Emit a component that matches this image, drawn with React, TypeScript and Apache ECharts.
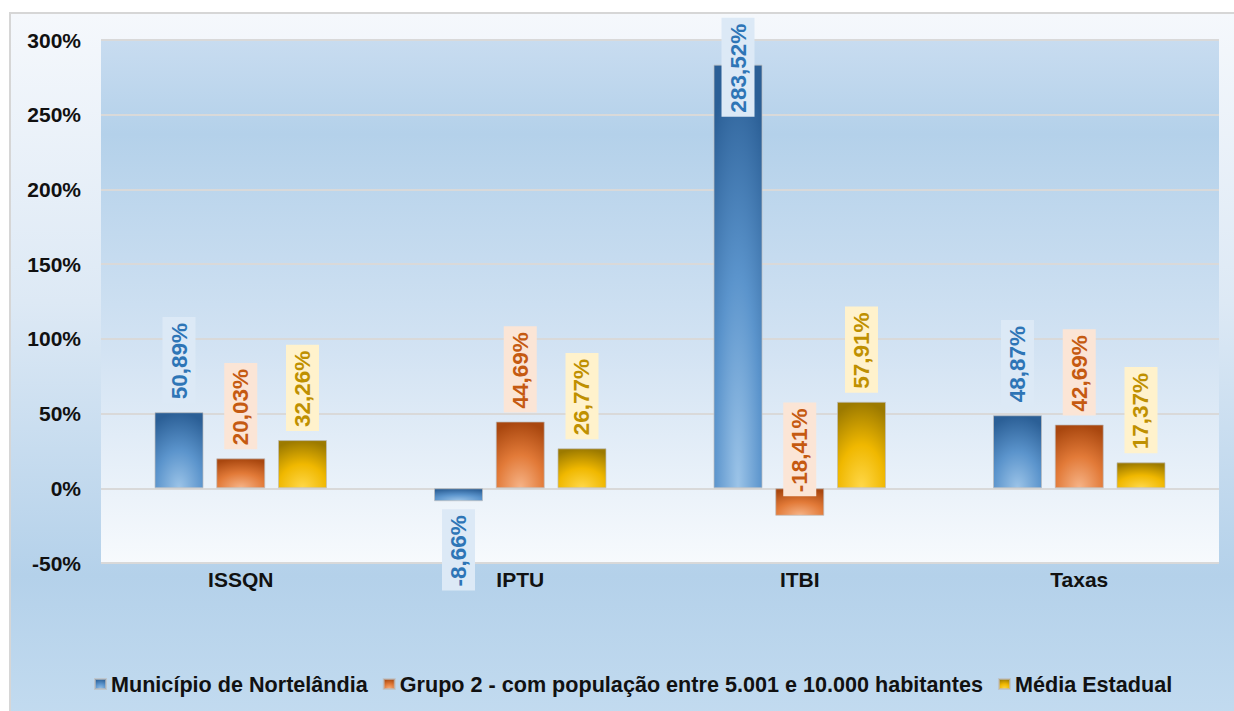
import React, { useEffect, useRef } from "react";
import * as echarts from "echarts";

const categories = ["ISSQN", "IPTU", "ITBI", "Taxas"];
const seriesNames = [
  "Município de Nortelândia",
  "Grupo 2 - com população entre 5.001 e 10.000 habitantes",
  "Média Estadual",
];
const municipio = [50.89, -8.66, 283.52, 48.87];
const grupo2 = [20.03, 44.69, -18.41, 42.69];
const mediaEstadual = [32.26, 26.77, 57.91, 17.37];
const yMin = -50;
const yMax = 300;
const yInterval = 50;

const FONT = '"Liberation Sans", Arial, sans-serif';

const radial = (c0: string, c1: string, c2: string) => ({
  type: "radial",
  x: 0.5,
  y: 1,
  r: 1,
  colorStops: [
    { offset: 0, color: c0 },
    { offset: 0.5, color: c1 },
    { offset: 1, color: c2 },
  ],
});

const palettes = [
  { fill: radial("#9cc4e8", "#5b94cc", "#2b5f96"), text: "#2e75b6", box: "#dce9f6" },
  { fill: radial("#f6b488", "#e27a38", "#a9470f"), text: "#c55a11", box: "#fbe5d6" },
  { fill: radial("#ffd84a", "#f0b800", "#9c7a00"), text: "#bf9000", box: "#fff2cc" },
];

const fmt = (v: number) => v.toFixed(2).replace(".", ",") + "%";

export default function App() {
  const ref = useRef<HTMLDivElement>(null);
  useEffect(() => {
    if (!ref.current) return;
    const chart = echarts.init(ref.current, undefined, { renderer: "svg" });
    const allValues = [municipio, grupo2, mediaEstadual];
    const overrides: Record<string, any> = {
      "0-1": { position: "bottom", align: "right", distance: 8 },
      "0-2": { distance: -52 },
      "1-2": { position: "top", distance: -8 },
    };
    const series = allValues.map((vals, si) => ({
      name: seriesNames[si],
      type: "bar",
      barWidth: 49,
      barGap: "26%",
      itemStyle: {
        color: palettes[si].fill,
        borderColor: "rgba(190,190,190,0.7)",
        borderWidth: 1,
      },
      label: {
        show: true,
        position: "top",
        rotate: 90,
        align: "left",
        verticalAlign: "middle",
        distance: 9,
        fontSize: 22.5,
        fontWeight: "bold",
        fontFamily: FONT,
        color: palettes[si].text,
        backgroundColor: palettes[si].box,
        padding: [5, 6, 5, 4],
        formatter: (p: any) => fmt(p.value),
      },
      data: vals.map((v, ci) => {
        const o = overrides[`${si}-${ci}`];
        return o ? { value: v, label: o } : v;
      }),
    }));

    chart.setOption({
      animation: false,
      backgroundColor: "transparent",
      grid: {
        left: 101,
        right: 15,
        top: 40,
        bottom: 148,
        show: true,
        borderWidth: 0,
        backgroundColor: {
          type: "linear",
          x: 0,
          y: 0,
          x2: 0,
          y2: 1,
          colorStops: [
            { offset: 0, color: "#c8dcf0" },
            { offset: 0.18, color: "#b4d1ea" },
            { offset: 0.6, color: "#d3e3f3" },
            { offset: 1, color: "#f7fafd" },
          ],
        },
      },
      legend: {
        data: seriesNames,
        left: 89,
        top: 668,
        icon: "rect",
        itemWidth: 11,
        itemHeight: 10,
        itemGap: 15,
        textStyle: {
          fontSize: 21.6,
          fontWeight: "bold",
          fontFamily: FONT,
          color: "#111",
        },
      },
      xAxis: {
        type: "category",
        data: categories,
        axisLine: { show: false },
        axisTick: { show: false },
        axisLabel: {
          margin: 6,
          fontSize: 21,
          fontWeight: "bold",
          fontFamily: FONT,
          color: "#111",
        },
      },
      yAxis: {
        type: "value",
        min: yMin,
        max: yMax,
        interval: yInterval,
        axisLine: { show: false },
        axisTick: { show: false },
        splitLine: { lineStyle: { color: "#d9d9d9", width: 2 } },
        axisLabel: {
          margin: 20,
          fontSize: 21,
          fontWeight: "bold",
          fontFamily: FONT,
          color: "#111",
          formatter: (v: number) => `${v}%`,
        },
      },
      series,
    });
    return () => chart.dispose();
  }, []);

  return (
    <div
      style={{
        position: "fixed",
        left: 0,
        top: 0,
        width: 1234,
        height: 711,
        background: "#fff",
        overflow: "hidden",
      }}
    >
      <div
        style={{
          position: "absolute",
          left: 9,
          top: 12,
          width: 1260,
          height: 720,
          borderTop: "2px solid #d6d6d6",
          borderLeft: "2px solid #d6d6d6",
          background:
            "linear-gradient(to bottom, #f5f8fc 0%, #dde9f5 40%, #b4d1ea 78%, #c4dcf0 100%)",
        }}
      />
      <div
        ref={ref}
        style={{ position: "absolute", left: 0, top: 0, width: 1234, height: 711 }}
      />
    </div>
  );
}
